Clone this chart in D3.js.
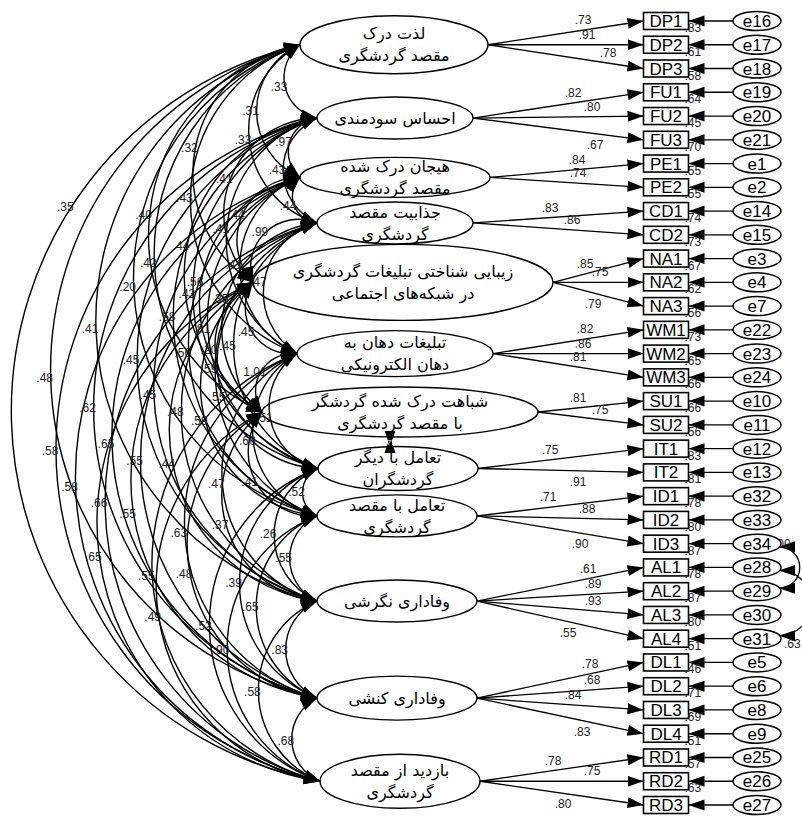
<!DOCTYPE html>
<html>
<head>
<meta charset="utf-8">
<script src="https://cdn.jsdelivr.net/npm/d3@7"></script>
<style>
  body { margin: 0; background: #fff; }
  svg { display: block; }
</style>
</head>
<body>
<svg id="chart" width="802" height="816"></svg>
<script>
// ---------------- data ----------------
// latent constructs, one entry per text line
const latentLabels = [
  ["لذت درک", "مقصد گردشگری"],
  ["احساس سودمندی"],
  ["هیجان درک شده", "مقصد گردشگری"],
  ["جذابیت مقصد", "گردشگری"],
  ["زیبایی شناختی تبلیغات گردشگری", "در  شبکه‌های اجتماعی"],
  ["تبلیغات دهان به", "دهان الکترونیکی"],
  ["شباهت درک شده گردشگر", "با مقصد گردشگری"],
  ["تعامل با دیگر", "گردشگران"],
  ["تعامل با مقصد", "گردشگری"],
  ["وفاداری نگرشی"],
  ["وفاداری کنشی"],
  ["بازدید از مقصد", "گردشگری"]
];

const indicators = ["DP1","DP2","DP3","FU1","FU2","FU3","PE1","PE2","CD1","CD2",
  "NA1","NA2","NA3","WM1","WM2","WM3","SU1","SU2","IT1","IT2","ID1","ID2","ID3",
  "AL1","AL2","AL3","AL4","DL1","DL2","DL3","DL4","RD1","RD2","RD3"];
const indicatorLatent = [0,0,0,1,1,1,2,2,3,3,4,4,4,5,5,5,6,6,7,7,8,8,8,9,9,9,9,10,10,10,10,11,11,11];
const loadings = [.73,.91,.78,.82,.80,.67,.84,.74,.83,.86,.85,.75,.79,.82,.86,.81,.81,.75,
  .75,.91,.71,.88,.90,.61,.89,.93,.55,.78,.68,.84,.83,.78,.75,.80];
const smc = [.83,.61,.58,.64,.45,.70,.55,.55,.74,.73,.67,.62,.56,.73,.65,.66,.66,.56,
  .83,.81,.78,.80,.87,.78,.87,.80,.51,.46,.71,.69,.51,.57,.63];
const errorNames = ["e16","e17","e18","e19","e20","e21","e1","e2","e14","e15","e3","e4","e7",
  "e22","e23","e24","e10","e11","e12","e13","e32","e33","e34","e28","e29","e30","e31",
  "e5","e6","e8","e9","e25","e26","e27"];

// correlations between latent constructs: [from, to, r]
const covariances = [
  [0,1,.33],[0,2,.31],[0,3,.33],[0,4,.32],[0,5,.43],[0,6,.40],[0,7,.42],[0,8,.20],[0,9,.41],[0,10,.48],[0,11,.35],
  [1,2,.97],[1,3,.43],[1,4,.41],[1,5,.41],[1,6,.44],[1,7,.43],[1,8,.58],[1,9,.45],[1,10,.62],[1,11,.58],
  [2,3,.44],[2,4,.44],[2,5,.41],[2,6,.56],[2,7,.81],[2,8,.56],[2,9,.45],[2,10,.65],[2,11,.58],
  [3,4,.99],[3,5,.47],[3,6,.35],[3,7,.45],[3,8,.59],[3,9,.48],[3,10,.55],[3,11,.66],
  [4,5,.45],[4,6,.20],[4,7,.55],[4,8,.59],[4,9,.44],[4,10,.55],[4,11,.65],
  [5,6,1.01],[5,7,.51],[5,8,.60],[5,9,.47],[5,10,.63],[5,11,.55],
  [6,7,.77],[6,8,.41],[6,9,.37],[6,10,.48],[6,11,.49],
  [7,8,.52],[7,9,.26],[7,10,.39],[7,11,.52],
  [8,9,.55],[8,10,.65],[8,11,.90],
  [9,10,.83],[9,11,.58],
  [10,11,.68]
];

// correlated error terms: [error a, error b, r]
const errorCovariances = [["e34","e29",.00],["e28","e31",.63]];

// ---------------- layout ----------------
const latentCx = [394,395,395,395,403,395,400,398,397,397,397,400];
const latentRx = [94,78,95,78,150,98,138,80,80,80,80,80];
const latentRy = [29,21,20,21,38,23,25,22,21,21,22,27];
const latentDy = [0,2,2,0,0,0,-1,8,-4,-2,0,0];
const boxCx = 666, boxW = 45, boxH = 17;
const errCx = 757, errRx = 24, errRy = 9.5;
// horizontal placement of each loading label along its path
const loadLabelX = [583,587,608,573,592,595,577,578,550,572,585,600,593,585,583,578,578,600,
  550,578,548,587,580,588,593,593,568,590,592,573,582,553,592,563];
const labelBelow = new Set(["FU3","NA3","IT2","ID3","AL4","DL4","RD3"]);
const labelAlongArc = {"0-11": 0.28};
const directPairs = new Set(["6-7"]);

const fmt = v => d3.format(".2f")(v).replace(/^0\./, ".");
const numFont = "Liberation Sans, Arial, sans-serif";

const svg = d3.select("#chart");
const rowY = d3.scalePoint().domain(indicators).range([21, 805]);

const latents = latentLabels.map((lines, i) => {
  const ys = indicators.filter((_, k) => indicatorLatent[k] === i).map(d => rowY(d));
  return { i, lines, cx: latentCx[i], cy: d3.mean(ys) + latentDy[i], rx: latentRx[i], ry: latentRy[i] };
});

// arrowhead marker
svg.append("defs").append("marker")
  .attr("id", "arrow")
  .attr("viewBox", "-16 -6 16 12")
  .attr("refX", 0).attr("refY", 0)
  .attr("markerWidth", 16).attr("markerHeight", 12)
  .attr("markerUnits", "userSpaceOnUse")
  .attr("orient", "auto-start-reverse")
  .append("path").attr("d", "M0,0L-16,-5.5L-16,5.5Z").attr("fill", "#000");

const gEll = svg.append("g");
const gLines = svg.append("g").attr("fill", "none").attr("stroke", "#000");
const gText = svg.append("g");

// latent ellipses
gEll.selectAll("ellipse").data(latents).join("ellipse")
  .attr("cx", d => d.cx).attr("cy", d => d.cy)
  .attr("rx", d => d.rx).attr("ry", d => d.ry)
  .attr("fill", "#fff").attr("stroke", "#000").attr("stroke-width", 1.4);

// circular arc bulging away from the chord (left for bulgeSign 1)
function arcGeom(p1, p2, bulgeSign) {
  const dx = p2[0] - p1[0], dy = p2[1] - p1[1];
  const c = Math.hypot(dx, dy);
  const k = 0.31 + 0.095 * c / 734;
  const s = k * c;
  const r = (c * c / 4 + s * s) / (2 * s);
  const ux = dx / c, uy = dy / c;
  const nx = -uy * bulgeSign, ny = ux * bulgeSign;
  const mx = (p1[0] + p2[0]) / 2, my = (p1[1] + p2[1]) / 2;
  const C = [mx + (s - r) * nx, my + (s - r) * ny];
  return { r, s, C, apex: [mx + s * nx, my + s * ny] };
}
function pointAlong(g, p1, p2, t) {
  const a1 = Math.atan2(p1[1] - g.C[1], p1[0] - g.C[0]);
  const a2 = Math.atan2(p2[1] - g.C[1], p2[0] - g.C[0]);
  let span = a1 - a2;
  while (span < 0) span += 2 * Math.PI;
  const a = a1 - t * span;
  return [g.C[0] + g.r * Math.cos(a), g.C[1] + g.r * Math.sin(a)];
}

// latent correlations
covariances.forEach(([i, j, v]) => {
  const A = latents[i], B = latents[j];
  const key = i + "-" + j;
  if (directPairs.has(key)) {
    const x = B.cx - 8;
    gLines.append("path")
      .attr("d", `M${x},${A.cy + A.ry}L${x},${B.cy - B.ry}`)
      .attr("stroke-width", 1.4)
      .attr("marker-start", "url(#arrow)").attr("marker-end", "url(#arrow)");
    gText.append("text").attr("x", x).attr("y", (A.cy + A.ry + B.cy - B.ry) / 2 + 3)
      .attr("text-anchor", "middle").attr("font-size", 8).attr("fill", "#fff")
      .attr("font-family", numFont).text(fmt(v));
    return;
  }
  const p1 = [A.cx - A.rx, A.cy], p2 = [B.cx - B.rx, B.cy];
  const g = arcGeom(p1, p2, 1);
  gLines.append("path")
    .attr("d", `M${p1[0]},${p1[1]}A${g.r},${g.r} 0 0 0 ${p2[0]},${p2[1]}`)
    .attr("stroke-width", 1.4)
    .attr("marker-start", "url(#arrow)").attr("marker-end", "url(#arrow)");
  const t = labelAlongArc[key];
  const lp = t === undefined ? g.apex : pointAlong(g, p1, p2, t);
  gText.append("text")
    .attr("x", lp[0] - 6).attr("y", lp[1] + 4)
    .attr("text-anchor", "middle")
    .attr("font-family", numFont)
    .attr("font-size", 12).attr("fill", "#222")
    .text(fmt(v));
});

// loadings: latent -> indicator
indicators.forEach((name, k) => {
  const L = latents[indicatorLatent[k]];
  const y = rowY(name);
  const x1 = L.cx + L.rx, y1 = L.cy, x2 = boxCx - boxW / 2;
  gLines.append("path")
    .attr("d", `M${x1},${y1}L${x2},${y}`)
    .attr("stroke-width", 1.3)
    .attr("marker-end", "url(#arrow)");
  const lx = Math.max(loadLabelX[k], x1 + 12);
  const ly = y1 + (lx - x1) / (x2 - x1) * (y - y1);
  gText.append("text")
    .attr("x", lx).attr("y", labelBelow.has(name) ? ly + 15 : ly - 6)
    .attr("text-anchor", "middle")
    .attr("font-family", numFont)
    .attr("font-size", 12).attr("fill", "#222")
    .text(fmt(loadings[k]));
});

// error -> indicator
indicators.forEach((name) => {
  const y = rowY(name);
  gLines.append("path")
    .attr("d", `M${errCx - errRx},${y}L${boxCx + boxW / 2},${y}`)
    .attr("stroke-width", 1.3)
    .attr("marker-end", "url(#arrow)");
});

// correlated errors (bulging right)
errorCovariances.forEach(([a, b, v], n) => {
  const ya = rowY(indicators[errorNames.indexOf(a)]);
  const yb = rowY(indicators[errorNames.indexOf(b)]);
  const p1 = [errCx + errRx - 2, ya + 3], p2 = [errCx + errRx - 2, yb - 3];
  const g = arcGeom(p1, p2, -1);
  gLines.append("path")
    .attr("d", `M${p1[0]},${p1[1]}A${g.r * 0.75},${g.r * 0.75} 0 0 1 ${p2[0]},${p2[1]}`)
    .attr("stroke-width", 1.3)
    .attr("marker-start", "url(#arrow)").attr("marker-end", "url(#arrow)");
  const lx = n === 0 ? p1[0] - 5 : p2[0] + 5;
  const ly = n === 0 ? p1[1] + 1 : p2[1] + 12;
  gText.append("text").attr("x", lx).attr("y", ly)
    .attr("font-family", numFont)
    .attr("font-size", 12).attr("fill", "#222").text(fmt(v));
});

// indicator boxes
const boxes = gText.selectAll("g.box").data(indicators).join("g").attr("class", "box");
boxes.append("rect")
  .attr("x", boxCx - boxW / 2).attr("y", d => rowY(d) - boxH / 2)
  .attr("width", boxW).attr("height", boxH)
  .attr("fill", "#fff").attr("stroke", "#000").attr("stroke-width", 1.6);
boxes.append("text")
  .attr("x", boxCx).attr("y", d => rowY(d) + 6)
  .attr("text-anchor", "middle")
  .attr("font-family", numFont)
  .attr("font-size", 17).attr("fill", "#000")
  .text(d => d);

// squared multiple correlations (one per indicator that carries a value)
gText.selectAll("text.smc").data(smc).join("text").attr("class", "smc")
  .attr("x", boxCx + boxW / 2 - 4).attr("y", (d, k) => rowY(indicators[k]) + 11)
  .attr("font-family", numFont)
  .attr("font-size", 12).attr("fill", "#222")
  .text(d => fmt(d));

// error terms
const errs = gText.selectAll("g.err").data(indicators).join("g").attr("class", "err");
errs.append("ellipse")
  .attr("cx", errCx).attr("cy", d => rowY(d))
  .attr("rx", errRx).attr("ry", errRy)
  .attr("fill", "#fff").attr("stroke", "#000").attr("stroke-width", 1.5);
errs.append("text")
  .attr("x", errCx).attr("y", d => rowY(d) + 6)
  .attr("text-anchor", "middle")
  .attr("font-family", numFont)
  .attr("font-size", 17).attr("fill", "#000")
  .text((d, k) => errorNames[k]);

// latent labels
latents.forEach(L => {
  const n = L.lines.length;
  L.lines.forEach((line, m) => {
    const off = n === 1 ? 0 : (m === 0 ? -11 : 11);
    gText.append("text")
      .attr("x", L.cx).attr("y", L.cy + off)
      .attr("dy", "0.35em")
      .attr("text-anchor", "middle")
      .attr("direction", "rtl")
      .attr("font-family", "DejaVu Sans, sans-serif")
      .attr("font-size", 16).attr("fill", "#000")
      .text(line);
  });
});
</script>
</body>
</html>
